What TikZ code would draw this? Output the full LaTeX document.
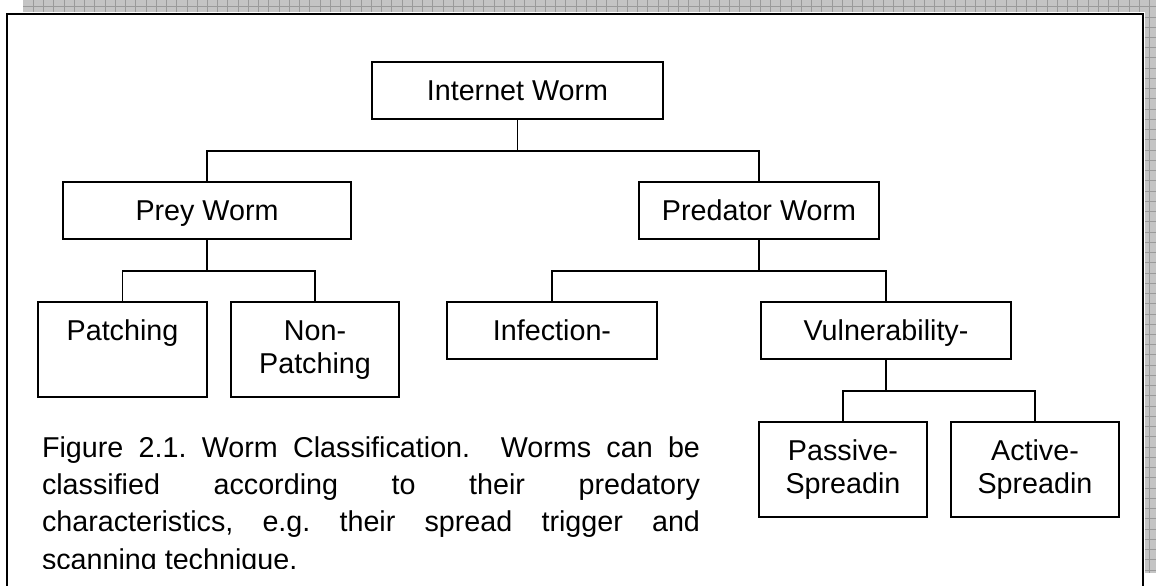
\documentclass[tikz,border=0pt]{standalone}
\usepackage{fontspec}
\setmainfont{Liberation Sans}
% box label: fixed-size parbox, text hanging from the top
\newcommand\wbt[3]{\parbox[c][#2pt][t]{#1pt}{\centering\rule{0pt}{38pt}#3}}
\definecolor{gridfill}{HTML}{C4C4C4}
\definecolor{gridrule}{HTML}{9A9A9A}
\begin{document}
\frenchspacing
\begin{tikzpicture}[x=1pt,y=-1pt,
  wbox/.style={draw, line width=1.7pt, inner sep=0pt, outer sep=0pt,
    font=\fontsize{28.7}{33}\selectfont},
  link/.style={line width=1.5pt},
  frameline/.style={line width=2.3pt, line join=miter},
  gridln/.style={draw=gridrule, line width=0.8pt},
  captxt/.style={anchor=base west, inner sep=0pt, outer sep=0pt,
    font=\fontsize{28.7}{37}\selectfont}]
\useasboundingbox (0,0) rectangle (1156,586);
\fill[white] (0,0) rectangle (1156,586);

% page background strips
\fill[gridfill] (23,0) rectangle (1156,12);
\fill[gridfill] (1145,0) rectangle (1156,573);
\foreach \i in {0,...,109} \draw[gridln] ({33.3+10.24*\i},0) -- ({33.3+10.24*\i},12);
\draw[gridln] (23,6.7) -- (1156,6.7);
\foreach \j in {0,...,55} \draw[gridln] (1145,{6.7+10.24*\j}) -- (1156,{6.7+10.24*\j});
\draw[gridln] (1149.3,0) -- (1149.3,573);

% text box frame
\draw[frameline] (7,586) -- (7,13.7) -- (1143,13.7) -- (1143,586);

% classification boxes
\node[wbox] (iw)       at (517.5,90.5)  {\wbt{291}{57}{Internet Worm}};
\node[wbox] (prey)     at (207,210.5)   {\wbt{288}{57}{Prey Worm}};
\node[wbox] (pred)     at (759,210.5)   {\wbt{240}{57}{Predator Worm}};
\node[wbox] (patch)    at (122.5,349.5) {\wbt{169}{95}{Patching}};
\node[wbox] (nonpatch) at (315,349.5)   {\wbt{168}{95}{Non-\\Patching}};
\node[wbox] (infect)   at (552,330.5)   {\wbt{210}{57}{Infection-}};
\node[wbox] (vuln)     at (886,330.5)   {\wbt{250}{57}{Vulnerability-}};
\node[wbox] (passive)  at (843,469.5)   {\wbt{168}{95}{Passive-\\Spreadin}};
\node[wbox] (active)   at (1035,469.5)  {\wbt{168}{95}{Active-\\Spreadin}};

% tree connectors
\draw[link] (iw.south) -- ++(0,32) coordinate (iwbar);
\draw[link] (prey.north) |- (iwbar) -| (pred.north);
\draw[link] (prey.south) -- ++(0,32) coordinate (preybar);
\draw[link] (patch.north) |- (preybar) -| (nonpatch.north);
\draw[link] (pred.south) -- ++(0,32) coordinate (predbar);
\draw[link] (infect.north) |- (predbar) -| (vuln.north);
\draw[link] (vuln.south) -- ++(0,32) coordinate (vulnbar);
\draw[link] (passive.north) |- (vulnbar) -| (active.north);

% caption, cut off by the bottom of its text box
\begin{scope}
\clip (30,420) rectangle (720,568.5);
\node[captxt] (cap1) at (42,457) {\makebox[658pt][s]{Figure 2.1. Worm Classification.\ \ Worms can be}};
\node[captxt] (cap2) at (42,494) {\makebox[658pt][s]{classified according to their predatory}};
\node[captxt] (cap3) at (42,531) {\makebox[658pt][s]{characteristics, e.g. their spread trigger and}};
\node[captxt] (cap4) at (42,569) {\makebox[658pt][l]{scanning technique.}};
\end{scope}
\end{tikzpicture}
\end{document}
